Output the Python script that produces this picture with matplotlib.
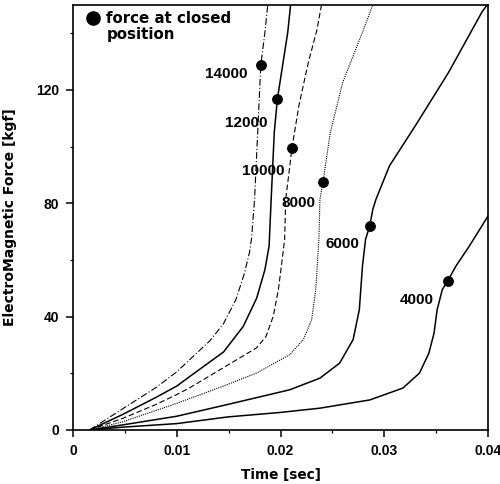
import matplotlib
matplotlib.use("Agg")
import matplotlib.pyplot as plt
from matplotlib.lines import Line2D
from matplotlib.ticker import MultipleLocator

plt.rcParams["font.family"] = "DejaVu Sans"
plt.rcParams["font.weight"] = "bold"

# curves (time in s, force in kgf), one per coil ampere-turn
t_14000 = [0.0016, 0.0048, 0.0080, 0.0100, 0.0113, 0.0132, 0.0145, 0.0157, 0.0165, 0.0170,
           0.0172, 0.0175, 0.0178, 0.0181, 0.0185, 0.0188]
f_14000 = [0, 7.5, 15.0, 20.5, 25.0, 31.5, 37.5, 46.0, 55.0, 62.5,
           67.3, 81.4, 105, 128.7, 140.4, 151]

t_12000 = [0.0016, 0.0048, 0.0080, 0.0100, 0.0113, 0.0145, 0.0164, 0.0177, 0.0185, 0.0189,
           0.0191, 0.0194, 0.0197, 0.0202, 0.0207, 0.0210]
f_12000 = [0, 5.5, 11.5, 15.5, 19.0, 27.5, 36.5, 46.5, 56.6, 64.9,
           81.4, 105, 116.8, 128.6, 140.4, 151]

t_10000 = [0.0016, 0.0048, 0.0080, 0.0100, 0.0113, 0.0145, 0.0177, 0.0186, 0.0193, 0.0198,
           0.0202, 0.0204, 0.0205, 0.0209, 0.0211, 0.0218, 0.0227, 0.0235, 0.0240]
f_10000 = [0, 4.1, 9.0, 12.5, 15.0, 22.0, 29.0, 33.0, 40.1, 49.6,
           61.3, 67.3, 81.4, 93.2, 99.5, 115, 130, 141, 151]

t_8000 = [0.0016, 0.0048, 0.0100, 0.0145, 0.0177, 0.0209, 0.0222, 0.0230, 0.0234,
          0.0236, 0.0237, 0.0238, 0.0241, 0.0248, 0.0260, 0.0279, 0.0290]
f_8000 = [0, 2.9, 9.4, 15.5, 20.1, 26.6, 31.9, 38.9, 49.6, 61.3, 67.3, 81.4, 87.6, 105,
          122.7, 140.4, 151]

t_6000 = [0.0016, 0.0048, 0.0100, 0.0149, 0.0209, 0.0238, 0.0257, 0.0270, 0.0276,
          0.0279, 0.0282, 0.0286, 0.0289, 0.0292, 0.0305, 0.0330, 0.0362, 0.0394, 0.0401]
f_6000 = [0, 1.8, 4.85, 9.0, 14.2, 18.3, 23.6, 31.9, 42.5, 57.8, 67.3, 72.0, 77.9, 81.4,
          93.2, 107.4, 126.2, 147.4, 151]

t_4000 = [0.0016, 0.0048, 0.0100, 0.0149, 0.0200, 0.0238, 0.0286, 0.0318, 0.0334,
          0.0343, 0.0348, 0.0351, 0.0356, 0.0361, 0.0369, 0.0382, 0.0400]
f_4000 = [0, 1.0, 2.25, 4.6, 6.2, 7.7, 10.6, 14.8, 20.1, 27.1, 34.2, 42.5, 49.6, 52.5,
          57.8, 64.9, 75.5]

# force at closed position (marker) per curve
closed_t = [0.0181, 0.0197, 0.0211, 0.0241, 0.0286, 0.0361]
closed_f = [128.7, 116.8, 99.5, 87.6, 72.0, 52.5]

curve_names = ["14000", "12000", "10000", "8000", "6000", "4000"]
label_t = [0.01476, 0.01668, 0.01837, 0.02173, 0.02596, 0.03313]
label_f = [125.7, 108.3, 91.5, 80.2, 65.7, 46.0]

curves = [(t_14000, f_14000), (t_12000, f_12000), (t_10000, f_10000),
          (t_8000, f_8000), (t_6000, f_6000), (t_4000, f_4000)]
styles = [(0, (6, 2, 1, 2)), "-", (0, (5, 2.5)), (0, (1, 1)), "-", "-"]
widths = [0.8, 1.1, 0.8, 0.8, 1.1, 1.1]

fig = plt.figure(figsize=(5.0, 4.84), dpi=100)
ax = fig.add_axes([0.146, 0.1116, 0.83, 0.8781])

for (t, f), ls, lw in zip(curves, styles, widths):
    ax.plot(t, f, color="black", linestyle=ls, linewidth=lw)

ax.plot(closed_t, closed_f, linestyle="none", marker="o", markersize=6.8,
        color="black", zorder=5)

for name, x, y in zip(curve_names, label_t, label_f):
    ax.text(x, y, name, ha="center", va="center", fontsize=11,
            fontweight="bold", family="Liberation Sans")

ax.set_xlim(0, 0.04)
ax.set_ylim(0, 150)
ax.set_xticks([0, 0.01, 0.02, 0.03, 0.04])
ax.set_xticklabels(["0", "0.01", "0.02", "0.03", "0.04"])
ax.set_yticks([0, 40, 80, 120])
ax.xaxis.set_minor_locator(MultipleLocator(0.005))
ax.yaxis.set_minor_locator(MultipleLocator(20))
ax.tick_params(which="major", direction="out", length=5, width=1.1, pad=5)
ax.tick_params(which="minor", direction="out", length=2.5, width=0.9)
for lab in ax.get_xticklabels() + ax.get_yticklabels():
    lab.set_family("Liberation Sans")
    lab.set_fontweight("bold")
    lab.set_fontsize(10)

for sp in ax.spines.values():
    sp.set_linewidth(1.2)

ax.set_xlabel("Time [sec]", fontsize=9.8, fontweight="bold", labelpad=7)
ax.set_ylabel("ElectroMagnetic Force [kgf]", fontsize=10, fontweight="bold", labelpad=14)

handles = [Line2D([], [], linestyle="none", marker="o", markersize=9.5, color="black"),
           Line2D([], [], linestyle="none")]
leg = ax.legend(handles, ["force at closed", "position"], loc="upper left",
                bbox_to_anchor=(0.03, 0.985), frameon=False, fontsize=10.8,
                handlelength=1.0, handletextpad=0.4, labelspacing=0.05,
                borderpad=0, borderaxespad=0)
for txt in leg.get_texts():
    txt.set_fontweight("bold")

fig.savefig("out.png", dpi=100)
